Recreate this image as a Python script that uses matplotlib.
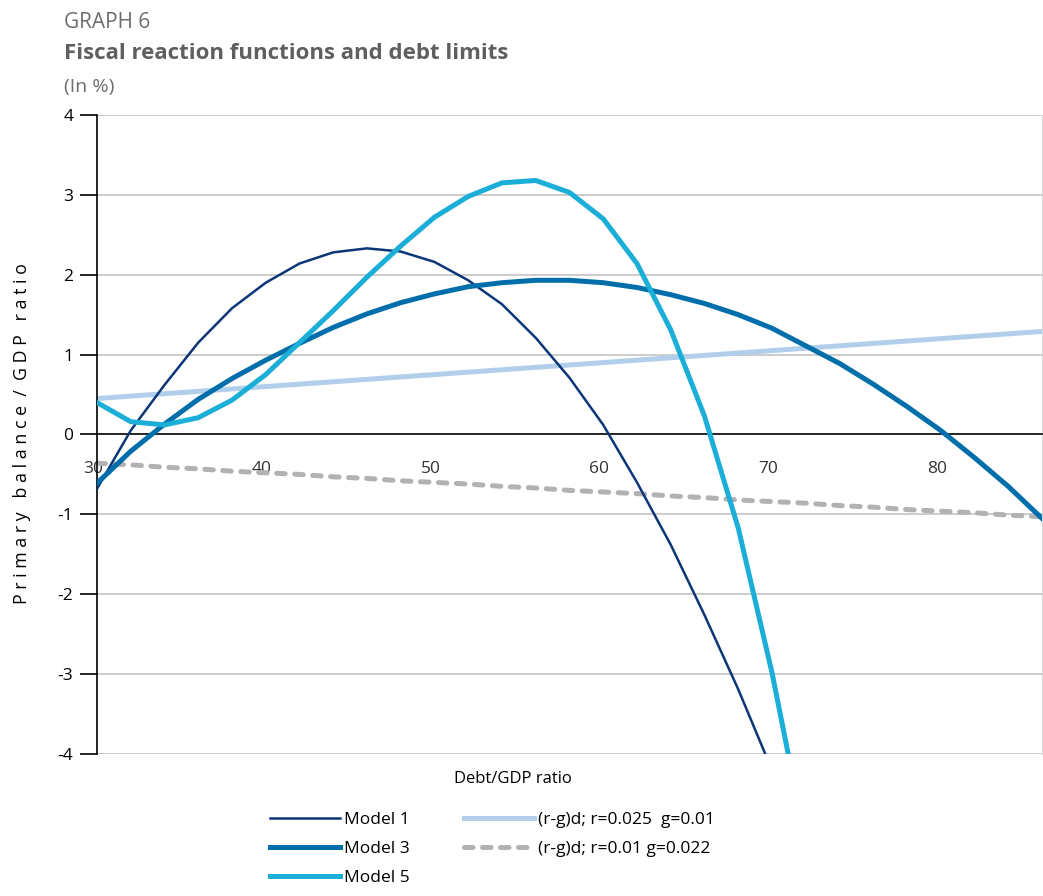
import matplotlib
matplotlib.use("Agg")
import matplotlib.pyplot as plt
import matplotlib.transforms as mtransforms

plt.rcParams['font.family'] = ['Open Sans', 'DejaVu Sans']

# Debt/GDP ratio, one point every 2
debt = [30, 32, 34, 36, 38, 40, 42, 44, 46, 48, 50, 52, 54, 56, 58,
        60, 62, 64, 66, 68, 70, 72, 74, 76, 78, 80, 82, 84, 86]

# Fiscal reaction functions
model1 = [-0.68, 0.05, 0.62, 1.15, 1.58, 1.90, 2.14, 2.28, 2.33, 2.29, 2.16, 1.93, 1.63, 1.21, 0.71,
          0.12, -0.60, -1.38, -2.26, -3.19, -4.20]
model3 = [-0.61, -0.21, 0.13, 0.44, 0.70, 0.93, 1.14, 1.34, 1.51, 1.65, 1.76, 1.85, 1.90, 1.93, 1.93,
          1.90, 1.84, 1.75, 1.64, 1.50, 1.33, 1.11, 0.89, 0.63, 0.35, 0.05, -0.29, -0.65, -1.05]
model5 = [0.40, 0.16, 0.12, 0.21, 0.43, 0.75, 1.15, 1.55, 1.97, 2.36, 2.72, 2.98, 3.15, 3.18, 3.03,
          2.70, 2.14, 1.31, 0.23, -1.17, -2.98, -5.10]

# Debt-stabilising primary balances
rg_high = [0.45, 0.48, 0.51, 0.54, 0.57, 0.60, 0.63, 0.66, 0.69, 0.72, 0.75, 0.78, 0.81, 0.84, 0.87,
           0.90, 0.93, 0.96, 0.99, 1.02, 1.05, 1.08, 1.11, 1.14, 1.17, 1.20, 1.23, 1.26, 1.29]
rg_low = [-0.36, -0.38, -0.41, -0.43, -0.46, -0.48, -0.50, -0.53, -0.55, -0.58, -0.60, -0.62, -0.65, -0.67, -0.70,
          -0.72, -0.74, -0.77, -0.79, -0.82, -0.84, -0.86, -0.89, -0.91, -0.94, -0.96, -0.98, -1.01, -1.03]

xticks = [30, 40, 50, 60, 70, 80]
yticks = [-4, -3, -2, -1, 0, 1, 2, 3, 4]

fig = plt.figure(figsize=(10.43, 8.96), dpi=100)
ax = fig.add_axes([0.093, 0.1585, 0.906, 0.7132])

# Grid lines first, so the curves sit on top
for yv in yticks:
    if yv != 0:
        ax.axhline(yv, color="#c4c4c4", lw=1.2, zorder=0)

l1, = ax.plot(debt[:len(model1)], model1, color="#0b3677", lw=1.8, zorder=3)
l3, = ax.plot(debt, model3, color="#006eab", lw=3.6, zorder=3)
l5, = ax.plot(debt[:len(model5)], model5, color="#1aaed8", lw=3.6, zorder=3)
lh, = ax.plot(debt, rg_high, color="#b1cfea", lw=3.6, zorder=2)
ll, = ax.plot(debt, rg_low, color="#b2b2b2", lw=3.6, ls=(0, (1.7, 1.9)),
              dash_capstyle="round", zorder=2)

ax.set_xlim(30, 86)
ax.set_ylim(-4, 4)
ax.set_xticks(xticks)
ax.set_yticks(yticks)
ax.set_yticklabels([str(v) for v in yticks])

# Axes styling: y spine on the left, x axis drawn at zero
ax.spines['top'].set_visible(False)
ax.spines['right'].set_color("#d8d8d8")
ax.spines['bottom'].set_position(('data', 0))
ax.spines['left'].set_linewidth(1.2)
ax.spines['bottom'].set_linewidth(1.2)
ax.tick_params(axis='y', direction='out', length=12, width=1.2, pad=5, labelsize=12.5)
ax.tick_params(axis='x', length=0, pad=19, labelsize=12.5, labelcolor="#333333")

# the x labels sit a little left of their points in the original
shift = mtransforms.ScaledTranslation(-4 / 100, 0, fig.dpi_scale_trans)
for lab in ax.get_xticklabels():
    lab.set_transform(lab.get_transform() + shift)

fig.text(0.021, 0.516, "P r i m a r y   b a l a n c e  /  G D P   r a t i o",
         rotation=90, ha="center", va="center", fontsize=12.8)
fig.text(0.492, 0.131, "Debt/GDP ratio", ha="center", va="center", fontsize=12)

# Titles
fig.text(0.061, 0.975, "GRAPH 6", fontsize=15, color="#6d6d6d", va="center")
fig.text(0.061, 0.940, "Fiscal reaction functions and debt limits", fontsize=16,
         fontweight="bold", color="#5f5f5f", va="center")
fig.text(0.061, 0.903, "(In %)", fontsize=14, color="#6d6d6d", va="center")

# Legend in two columns below the chart
leg1 = fig.legend([l1, l3, l5], ["Model 1", "Model 3", "Model 5"],
                  loc="upper left", bbox_to_anchor=(0.244, 0.111), frameon=False,
                  fontsize=12.5, handlelength=4.0, handletextpad=0.25, labelspacing=0.72)
leg2 = fig.legend([lh, ll], ["(r-g)d; r=0.025  g=0.01", "(r-g)d; r=0.01 g=0.022"],
                  loc="upper left", bbox_to_anchor=(0.430, 0.111), frameon=False,
                  fontsize=12.5, handlelength=4.0, handletextpad=0.25, labelspacing=0.72)

fig.savefig("out.png", dpi=100)
